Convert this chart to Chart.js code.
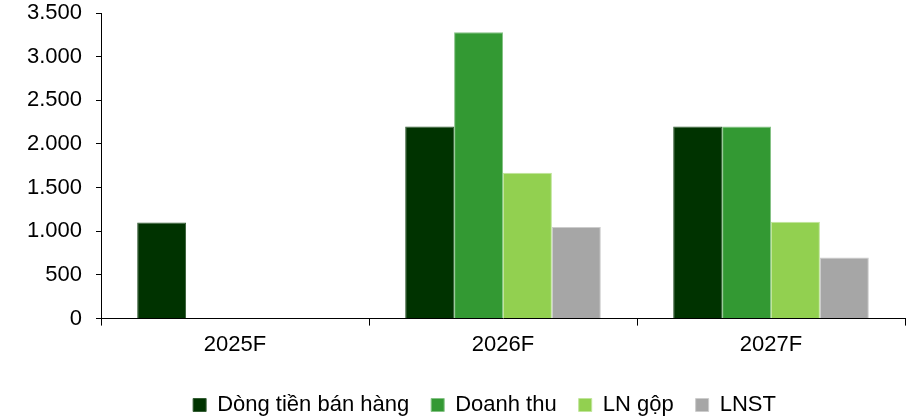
<!DOCTYPE html>
<html>
<head>
<meta charset="utf-8">
<script src="https://cdn.jsdelivr.net/npm/chart.js@4.4.1/dist/chart.umd.min.js"></script>
<style>
  html, body { margin: 0; padding: 0; background: #fff; }
  #wrap { width: 915px; height: 418px; }
</style>
</head>
<body>
<div id="wrap"><canvas id="chart"></canvas></div>
<script>
// Dữ liệu
const years = ['2025F', '2026F', '2027F'];
const dongTien = [1100, 2200, 2200];
const doanhThu = [null, 3280, 2200];
const lnGop = [null, 1670, 1110];
const lnst = [null, 1050, 700];
const yTicks = [0, 500, 1000, 1500, 2000, 2500, 3000, 3500];

function fmt(v) {
    return String(v).replace(/\B(?=(\d{3})+(?!\d))/g, '.');
}

const font = { family: 'Liberation Sans, Arial, sans-serif', size: 22 };

// Dịch chú giải cho giống bản gốc
const legendShift = {
    id: 'legendShift',
    afterLayout(chart) {
        chart.legend.left += 64;
        chart.legend.top += 8;
        chart.legend.bottom += 8;
    }
};

const ctx = document.getElementById('chart').getContext('2d');
new Chart(ctx, {
    type: 'bar',
    data: {
        labels: years,
        datasets: [
            { label: 'Dòng tiền bán hàng', data: dongTien, backgroundColor: '#003300', borderColor: '#335c33' },
            { label: 'Doanh thu', data: doanhThu, backgroundColor: '#339933', borderColor: '#85c285' },
            { label: 'LN gộp', data: lnGop, backgroundColor: '#92d050', borderColor: '#c0e59b' },
            { label: 'LNST', data: lnst, backgroundColor: '#a6a6a6', borderColor: '#cccccc' }
        ]
    },
    plugins: [legendShift],
    options: {
        responsive: true,
        maintainAspectRatio: false,
        animation: false,
        datasets: {
            bar: {
                categoryPercentage: 0.73,
                barPercentage: 1.0,
                borderWidth: 1
            }
        },
        layout: { padding: { top: 13, right: 10, left: 0, bottom: 0 } },
        plugins: {
            legend: {
                position: 'bottom',
                labels: {
                    font: font,
                    color: '#000',
                    boxWidth: 13,
                    boxHeight: 13,
                    padding: 22
                }
            },
            tooltip: { enabled: false }
        },
        scales: {
            x: {
                grid: { display: true, drawOnChartArea: false, drawTicks: true, tickLength: 7, color: '#000', offset: true },
                border: { color: '#000', width: 1 },
                ticks: { font: font, color: '#000', padding: 6 }
            },
            y: {
                min: 0,
                max: 3500,
                afterBuildTicks: (scale) => { scale.ticks = yTicks.map(v => ({ value: v })); },
                afterFit: (scale) => { scale.width = 101; scale.paddingTop = 0; scale.paddingBottom = 0; },
                grid: { display: true, drawOnChartArea: false, drawTicks: true, tickLength: 5, color: '#000' },
                border: { color: '#000', width: 1 },
                ticks: { font: font, color: '#000', padding: 14, callback: (v) => fmt(v) }
            }
        }
    }
});
</script>
</body>
</html>
